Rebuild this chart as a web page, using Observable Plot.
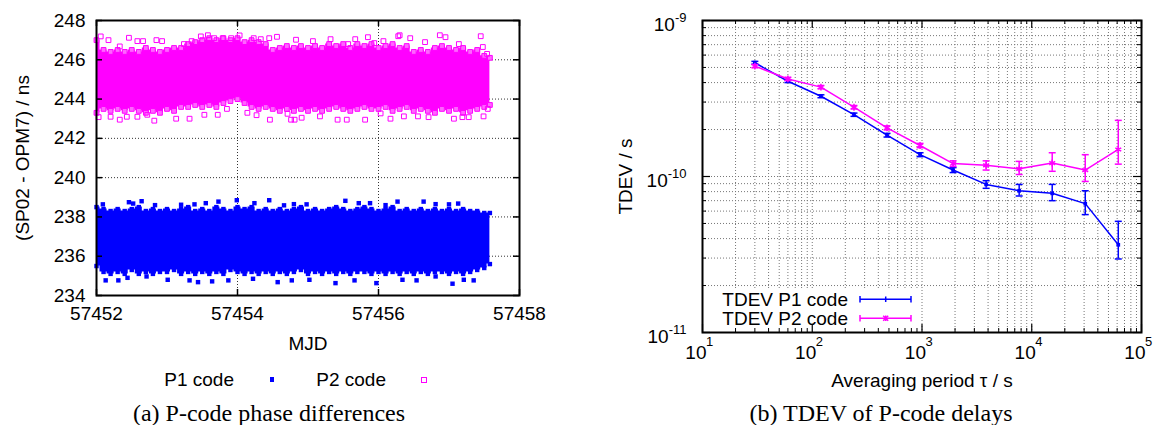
<!DOCTYPE html>
<html><head><meta charset="utf-8">
<script src="https://cdn.jsdelivr.net/npm/d3@7"></script>
<script src="https://cdn.jsdelivr.net/npm/@observablehq/plot@0.6"></script>
<style>
body{margin:0;background:#fff;}
#fig{position:relative;width:1159px;height:425px;overflow:hidden;background:#fff;font-family:"Liberation Sans",Arial,sans-serif;color:#000;}
.abs{position:absolute;white-space:nowrap;}
.lab{font-size:19px;line-height:19px;}
.cap{font-family:"Liberation Serif","Times New Roman",serif;font-size:24px;line-height:24px;transform:translateX(-50%);}
</style></head><body><div id="fig"></div>
<script>
// ---------- Panel (a): P-code phase differences ----------
const mjdTicks = [57452, 57454, 57456, 57458];
const nsTicks = [234, 236, 238, 240, 242, 244, 246, 248];
const bandMjd = [57452.0,57452.1,57452.2,57452.3,57452.4,57452.5,57452.6,57452.7,57452.8,57452.9,
  57453.0,57453.1,57453.2,57453.3,57453.4,57453.5,57453.6,57453.7,57453.8,57453.9,
  57454.0,57454.1,57454.2,57454.3,57454.4,57454.5,57454.6,57454.7,57454.8,57454.9,
  57455.0,57455.1,57455.2,57455.3,57455.4,57455.5,57455.6,57455.7,57455.8,57455.9,
  57456.0,57456.1,57456.2,57456.3,57456.4,57456.5,57456.6,57456.7,57456.8,57456.9,
  57457.0,57457.1,57457.2,57457.3,57457.4,57457.5,57457.58];
const p1High = [238.5,238.4,238.3,238.4,238.3,238.4,238.5,238.3,238.4,238.3,
  238.4,238.3,238.4,238.5,238.3,238.4,238.3,238.5,238.4,238.3,
  238.5,238.4,238.5,238.3,238.4,238.3,238.4,238.3,238.4,238.5,
  238.3,238.4,238.3,238.4,238.5,238.4,238.3,238.4,238.5,238.4,
  238.3,238.4,238.5,238.3,238.4,238.3,238.4,238.3,238.4,238.3,
  238.4,238.3,238.4,238.3,238.3,238.2,238.2];
const p1Low = [235.5,235.2,235.1,235.2,235.1,235.3,235.1,235.2,235.1,235.2,
  235.2,235.3,235.1,235.2,235.1,235.2,235.1,235.2,235.1,235.3,
  235.2,235.1,235.2,235.1,235.2,235.1,235.2,235.1,235.2,235.3,
  235.1,235.2,235.1,235.2,235.1,235.2,235.1,235.2,235.2,235.1,
  235.2,235.1,235.2,235.1,235.2,235.1,235.2,235.1,235.2,235.2,
  235.1,235.2,235.1,235.2,235.3,235.4,235.6];
const p2High = [247.0,246.5,246.4,246.5,246.4,246.5,246.4,246.6,246.5,246.4,
  246.5,246.6,246.6,246.8,246.9,247.0,247.1,247.0,247.1,247.0,
  247.1,246.9,247.0,246.9,246.8,246.5,246.6,246.7,246.6,246.7,
  246.6,246.7,246.6,246.8,246.7,246.8,246.6,246.8,246.7,246.8,
  246.6,246.7,246.8,246.6,246.7,246.4,246.5,246.4,246.6,246.7,
  246.6,246.5,246.6,246.4,246.5,246.2,246.1];
const p2Low = [243.3,243.5,243.4,243.5,243.4,243.5,243.4,243.3,243.4,243.3,
  243.5,243.4,243.6,243.6,243.7,243.6,243.7,243.6,243.8,243.9,
  244.0,243.8,243.6,243.5,243.6,243.5,243.4,243.5,243.4,243.5,
  243.4,243.5,243.4,243.5,243.6,243.5,243.4,243.5,243.6,243.5,
  243.5,243.6,243.4,243.5,243.6,243.4,243.5,243.4,243.3,243.5,
  243.4,243.5,243.3,243.4,243.5,243.6,243.7];
const p1Outliers = [[57452.09,238.64],[57452.46,238.75],[57452.52,238.68],[57452.64,238.8],[57452.83,238.6],[57453.2,238.62],
  [57453.39,238.64],[57453.55,238.7],[57453.73,238.78],[57453.99,238.85],[57454.24,238.7],[57454.45,238.85],[57454.66,238.59],
  [57454.8,238.65],[57454.98,238.64],[57455.53,238.82],[57455.72,238.7],[57455.88,238.7],[57456.1,238.6],[57456.27,238.78],
  [57456.64,238.78],[57456.81,238.65],[57457.0,238.64],[57457.13,238.68],
  [57452.13,234.77],[57452.31,234.77],[57452.44,234.9],[57452.71,234.97],[57453.01,234.8],[57453.32,234.77],[57453.44,234.68],
  [57453.64,234.72],[57453.87,234.77],[57454.22,234.85],[57454.57,234.68],[57454.77,234.77],[57455.02,234.8],[57455.39,234.63],
  [57455.66,234.77],[57455.97,234.63],[57456.34,234.8],[57456.54,234.77],[57456.81,234.97],[57457.05,234.6],[57457.21,234.8],
  [57457.35,234.77]];
const p2Outliers = [[57452.06,247.19],[57452.17,247.0],[57452.33,246.68],[57452.46,247.12],[57452.58,246.95],[57452.66,246.95],
  [57452.85,247.0],[57452.93,246.95],[57453.24,246.8],[57453.35,246.95],[57453.48,247.19],[57453.58,247.25],[57453.67,247.1],
  [57453.79,247.1],[57453.91,247.1],[57454.03,247.24],[57454.23,247.1],[57454.33,247.05],[57454.45,247.1],[57454.56,247.17],
  [57454.83,247.02],[57455.07,246.95],[57455.32,247.05],[57455.57,246.8],[57455.67,247.05],[57455.85,247.15],[57455.94,246.85],
  [57456.07,246.95],[57456.28,247.2],[57456.3,247.25],[57456.45,247.1],[57456.66,246.9],[57456.87,247.25],[57456.95,247.15],
  [57457.14,246.8],[57457.45,247.2],[57457.48,246.65],[57457.54,246.3],
  [57452.03,243.08],[57452.2,243.1],[57452.33,242.95],[57452.43,243.1],[57452.58,243.1],[57452.72,243.2],[57452.82,242.9],
  [57453.13,243.0],[57453.32,243.0],[57453.53,243.2],[57453.72,243.2],[57453.85,243.5],[57454.14,243.3],[57454.27,243.18],
  [57454.46,242.95],[57454.71,243.25],[57454.76,242.95],[57454.81,242.95],[57454.91,243.05],[57455.17,243.12],[57455.42,242.95],
  [57455.55,242.95],[57455.81,242.95],[57456.03,243.27],[57456.17,243.0],[57456.36,243.12],[57456.56,243.12],[57456.71,243.08],
  [57457.07,243.0],[57457.19,243.08],[57457.28,243.08],[57457.49,243.12],[57457.55,243.5]];

// ---------- Panel (b): TDEV ----------
const tau = [30, 60, 120, 240, 480, 960, 1920, 3840, 7680, 15360, 30720, 61440];
const tdevP1 = [5.36e-10, 4.08e-10, 3.27e-10, 2.49e-10, 1.84e-10, 1.38e-10, 1.10e-10, 8.9e-11, 8.1e-11, 7.8e-11, 6.7e-11, 3.65e-11];
const tdevP1Lo = [5.25e-10, 4.0e-10, 3.2e-10, 2.43e-10, 1.79e-10, 1.34e-10, 1.06e-10, 8.4e-11, 7.5e-11, 7.0e-11, 5.7e-11, 2.96e-11];
const tdevP1Hi = [5.47e-10, 4.16e-10, 3.34e-10, 2.55e-10, 1.89e-10, 1.42e-10, 1.14e-10, 9.4e-11, 8.9e-11, 8.9e-11, 8.1e-11, 5.16e-11];
const tdevP2 = [5.10e-10, 4.22e-10, 3.74e-10, 2.78e-10, 2.05e-10, 1.58e-10, 1.21e-10, 1.18e-10, 1.12e-10, 1.22e-10, 1.10e-10, 1.49e-10];
const tdevP2Lo = [4.98e-10, 4.12e-10, 3.65e-10, 2.71e-10, 1.99e-10, 1.53e-10, 1.16e-10, 1.10e-10, 1.03e-10, 1.08e-10, 9.3e-11, 1.20e-10];
const tdevP2Hi = [5.22e-10, 4.32e-10, 3.83e-10, 2.85e-10, 2.11e-10, 1.63e-10, 1.26e-10, 1.26e-10, 1.25e-10, 1.42e-10, 1.38e-10, 2.29e-10];
const tauDecades = [10, 100, 1000, 10000, 100000];
const tdevDecades = [1e-11, 1e-10, 1e-9];
const mantissas = [1, 2, 3, 4, 5, 6, 7, 8, 9];

const BLUE = "#0000ff", MAG = "#ff00ff";
const fig = document.getElementById("fig");
const baseStyle = {fontFamily: "Liberation Sans, Arial, sans-serif", fontSize: "19px", background: "transparent", overflow: "visible", color: "#000"};

// ----- Left plot -----
const band1 = bandMjd.map((m, i) => ({mjd: m, lo: p1Low[i], hi: p1High[i]}));
const band2 = bandMjd.map((m, i) => ({mjd: m, lo: p2Low[i], hi: p2High[i]}));
const LW = 423, LH = 275;
const leftPlot = Plot.plot({
  width: 560, height: 360, marginTop: 20, marginLeft: 96, marginRight: 41, marginBottom: 65,
  x: {domain: [57452, 57458], axis: null},
  y: {domain: [234, 248], axis: null},
  style: baseStyle,
  marks: [
    Plot.ruleX(mjdTicks.slice(1, -1), {stroke: "#333", strokeDasharray: "1,2"}),
    Plot.ruleY(nsTicks.slice(1, -1), {stroke: "#333", strokeDasharray: "1,2"}),
    Plot.areaY(band1, {x: "mjd", y1: "lo", y2: "hi", fill: BLUE, curve: "step"}),
    Plot.dot(band1, {x: "mjd", y: "hi", symbol: "square", r: 2.5, fill: BLUE}),
    Plot.dot(band1, {x: "mjd", y: "lo", symbol: "square", r: 2.5, fill: BLUE}),
    Plot.dot(p1Outliers, {x: d => d[0], y: d => d[1], symbol: "square", r: 2.5, fill: BLUE}),
    Plot.areaY(band2, {x: "mjd", y1: "lo", y2: "hi", fill: MAG, curve: "step"}),
    Plot.dot(band2, {x: "mjd", y: "hi", symbol: "square", r: 2.7, fill: "#ff66ff", stroke: MAG, strokeWidth: 1}),
    Plot.dot(band2, {x: "mjd", y: "lo", symbol: "square", r: 2.7, fill: "#ff66ff", stroke: MAG, strokeWidth: 1}),
    Plot.dot(p2Outliers, {x: d => d[0], y: d => d[1], symbol: "square", r: 2.7, fill: "none", stroke: MAG, strokeWidth: 1}),
    Plot.ruleX(mjdTicks, {insetTop: LH - 6, stroke: "#000", strokeWidth: 1.5}),
    Plot.ruleX(mjdTicks, {insetBottom: LH - 6, stroke: "#000", strokeWidth: 1.5}),
    Plot.ruleY(nsTicks, {insetRight: LW - 6, stroke: "#000", strokeWidth: 1.5}),
    Plot.ruleY(nsTicks, {insetLeft: LW - 6, stroke: "#000", strokeWidth: 1.5}),
    Plot.frame({stroke: "#000", strokeWidth: 2}),
    Plot.text(mjdTicks, {x: d => d, text: d => String(d), frameAnchor: "bottom", dy: 18, lineAnchor: "middle"}),
    Plot.text(nsTicks, {y: d => d, text: d => String(d), frameAnchor: "left", textAnchor: "end", dx: -11, lineAnchor: "middle"}),
    Plot.text(["MJD"], {frameAnchor: "bottom", dy: 48, lineAnchor: "middle"}),
    Plot.text(["(SP02 - OPM7) / ns"], {frameAnchor: "left", dx: -74, rotate: -90, textAnchor: "middle", lineAnchor: "middle"})
  ]
});
leftPlot.style.position = "absolute"; leftPlot.style.left = "0px"; leftPlot.style.top = "0px";
fig.appendChild(leftPlot);

// ----- Right plot -----
const RW = 439, RH = 312;
const rows1 = tau.map((t, i) => ({tau: t, v: tdevP1[i], lo: tdevP1Lo[i], hi: tdevP1Hi[i]}));
const rows2 = tau.map((t, i) => ({tau: t, v: tdevP2[i], lo: tdevP2Lo[i], hi: tdevP2Hi[i]}));
const xMinor = tauDecades.slice(0, -1).flatMap(d => mantissas.slice(1).map(m => m * d));
const xMajor = tauDecades;
const yMinor = tdevDecades.slice(0, -1).flatMap(d => mantissas.slice(1).map(m => m * d));
const yMajor = tdevDecades;
const xGridAll = [...xMinor, ...xMajor.slice(1, -1)];
const cap = {draw(ctx) { ctx.moveTo(-3.5, 0); ctx.lineTo(3.5, 0); }};
const measure = (() => { const c = document.createElement("canvas").getContext("2d"); c.font = "13px 'Liberation Sans'"; return s => c.measureText(s).width; })();

const yLabelMarks = yMajor.flatMap(v => {
  const e = String(Math.round(Math.log10(v)));
  const w = measure(e);
  return [
    Plot.text([v], {y: d => d, text: () => "10", frameAnchor: "left", textAnchor: "end", dx: -16 - w, dy: 4, lineAnchor: "middle"}),
    Plot.text([v], {y: d => d, text: () => e, frameAnchor: "left", textAnchor: "end", dx: -16, dy: -2.5, fontSize: 13, lineAnchor: "middle"})
  ];
});

const rightPlot = Plot.plot({
  width: 579, height: 400, marginTop: 20, marginLeft: 122, marginRight: 18, marginBottom: 68,
  x: {type: "log", domain: [10, 1e5], axis: null},
  y: {type: "log", domain: [1e-11, 1e-9], axis: null},
  style: baseStyle,
  marks: [
    Plot.ruleX(xGridAll.filter(v => v < 1000), {stroke: "#777", strokeDasharray: "1,2", insetBottom: 42}),
    Plot.ruleX(xGridAll.filter(v => v >= 1000), {stroke: "#777", strokeDasharray: "1,2"}),
    Plot.ruleY([...yMinor, 1e-10], {stroke: "#777", strokeDasharray: "1,2"}),
    Plot.ruleX(xMajor, {insetTop: RH - 8, stroke: "#000", strokeWidth: 1.2}),
    Plot.ruleX(xMajor, {insetBottom: RH - 8, stroke: "#000", strokeWidth: 1.2}),
    Plot.ruleX(xMinor, {insetTop: RH - 4, stroke: "#000", strokeWidth: 1}),
    Plot.ruleX(xMinor, {insetBottom: RH - 4, stroke: "#000", strokeWidth: 1}),
    Plot.ruleY(yMajor, {insetRight: RW - 8, stroke: "#000", strokeWidth: 1.2}),
    Plot.ruleY(yMajor, {insetLeft: RW - 8, stroke: "#000", strokeWidth: 1.2}),
    Plot.ruleY(yMinor, {insetRight: RW - 4, stroke: "#000", strokeWidth: 1}),
    Plot.ruleY(yMinor, {insetLeft: RW - 4, stroke: "#000", strokeWidth: 1}),
    // P1
    Plot.ruleX(rows1, {x: "tau", y1: "lo", y2: "hi", stroke: BLUE, strokeWidth: 1.5}),
    Plot.dot(rows1, {x: "tau", y: "lo", symbol: cap, stroke: BLUE, fill: "none", strokeWidth: 1.5}),
    Plot.dot(rows1, {x: "tau", y: "hi", symbol: cap, stroke: BLUE, fill: "none", strokeWidth: 1.5}),
    Plot.line(rows1, {x: "tau", y: "v", stroke: BLUE, strokeWidth: 1.5}),
    Plot.dot(rows1, {x: "tau", y: "v", symbol: "square", r: 2.1, fill: BLUE}),
    // P2
    Plot.ruleX(rows2, {x: "tau", y1: "lo", y2: "hi", stroke: MAG, strokeWidth: 1.5}),
    Plot.dot(rows2, {x: "tau", y: "lo", symbol: cap, stroke: MAG, fill: "none", strokeWidth: 1.5}),
    Plot.dot(rows2, {x: "tau", y: "hi", symbol: cap, stroke: MAG, fill: "none", strokeWidth: 1.5}),
    Plot.line(rows2, {x: "tau", y: "v", stroke: MAG, strokeWidth: 1.5}),
    Plot.dot(rows2, {x: "tau", y: "v", symbol: "asterisk", r: 3.2, stroke: MAG, strokeWidth: 1.5}),
    Plot.frame({stroke: "#000", strokeWidth: 2}),
    Plot.text(xMajor, {x: d => d, text: () => "10", frameAnchor: "bottom", textAnchor: "end", dx: 4, dy: 20.5, lineAnchor: "middle"}),
    Plot.text(xMajor, {x: d => d, text: d => String(Math.round(Math.log10(d))), frameAnchor: "bottom", textAnchor: "start", dx: 3.5, dy: 9, fontSize: 13, lineAnchor: "middle"}),
    ...yLabelMarks,
    Plot.text(["Averaging period \u03c4 / s"], {frameAnchor: "bottom", dy: 48, lineAnchor: "middle"}),
    Plot.text(["TDEV / s"], {frameAnchor: "left", dx: -77, rotate: -90, textAnchor: "middle", lineAnchor: "middle"})
  ]
});
rightPlot.style.position = "absolute"; rightPlot.style.left = "580px"; rightPlot.style.top = "0px";
fig.appendChild(rightPlot);

// ----- Legends & captions -----
function addDiv(html, css, cls) { const d = document.createElement("div"); d.className = "abs " + (cls || ""); d.innerHTML = html; Object.assign(d.style, css); fig.appendChild(d); return d; }
addDiv("P1 code", {right: (1159 - 234) + "px", top: "369.7px"}, "lab");
addDiv("", {left: "269.5px", top: "377px", width: "4.5px", height: "4.5px", background: BLUE});
addDiv("P2 code", {right: (1159 - 386) + "px", top: "369.7px"}, "lab");
addDiv("", {left: "420.5px", top: "376.5px", width: "4px", height: "4px", border: "1px solid " + MAG});
addDiv("(a) P-code phase differences", {left: "269px", top: "401px"}, "cap");
addDiv("(b) TDEV of P-code delays", {left: "881px", top: "401px"}, "cap");
addDiv("TDEV P1 code", {right: (1159 - 848) + "px", top: "290px"}, "lab");
addDiv("TDEV P2 code", {right: (1159 - 848) + "px", top: "309px"}, "lab");
const sw = `<svg width="60" height="40" style="overflow:visible">
 <g stroke="${BLUE}" stroke-width="1.5"><line x1="5" y1="9.3" x2="56" y2="9.3"/><line x1="5" y1="6" x2="5" y2="12.6"/><line x1="56" y1="6" x2="56" y2="12.6"/><line x1="30.7" y1="6.5" x2="30.7" y2="12"/></g>
 <g stroke="${MAG}" stroke-width="1.5"><line x1="5" y1="28.3" x2="56" y2="28.3"/><line x1="5" y1="25" x2="5" y2="31.6"/><line x1="56" y1="25" x2="56" y2="31.6"/><path d="M28.2,25.8L33.2,30.8M33.2,25.8L28.2,30.8M30.7,25.5V31.1"/></g>
</svg>`;
addDiv(sw, {left: "855px", top: "290px"});
</script></body></html>
